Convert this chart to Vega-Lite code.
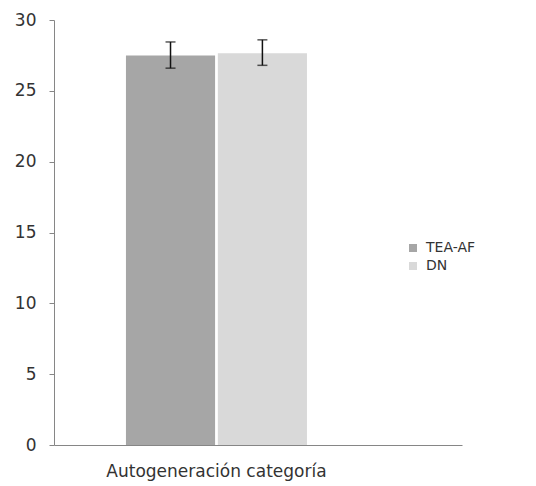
{
  "$schema": "https://vega.github.io/schema/vega-lite/v6.json",
  "width": 408,
  "height": 425,
  "autosize": "none",
  "padding": {"left": 54, "top": 20, "right": 74, "bottom": 41},
  "background": "white",
  "config": {
    "view": {"stroke": null},
    "font": "DejaVu Sans",
    "axis": {"grid": false, "domainColor": "#868686", "tickColor": "#868686", "labelColor": "#333333", "labelFont": "DejaVu Sans"}
  },
  "data": {
    "values": [
      {"cat": "Autogeneración categoría", "group": "TEA-AF", "mean": 27.5, "lo": 26.6, "hi": 28.45},
      {"cat": "Autogeneración categoría", "group": "DN", "mean": 27.65, "lo": 26.8, "hi": 28.6}
    ]
  },
  "encoding": {
    "x": {
      "field": "cat", "type": "nominal", "title": null,
      "scale": {"paddingInner": 0, "paddingOuter": 0.627, "align": 0.317},
      "axis": {"labelAngle": 0, "ticks": false, "labelPadding": 18, "labelFontSize": 17, "labelLimit": 0, "labelDx": 4}
    },
    "xOffset": {"field": "group", "type": "nominal", "sort": ["TEA-AF", "DN"], "scale": {"paddingInner": 0.03}}
  },
  "layer": [
    {
      "mark": {"type": "bar"},
      "encoding": {
        "y": {
          "field": "mean", "type": "quantitative", "title": null,
          "scale": {"domain": [0, 30], "nice": false},
          "axis": {"values": [0, 5, 10, 15, 20, 25, 30], "tickSize": 5, "labelPadding": 13, "labelFontSize": 17}
        },
        "color": {
          "field": "group", "type": "nominal", "sort": ["TEA-AF", "DN"],
          "scale": {"domain": ["TEA-AF", "DN"], "range": ["#a6a6a6", "#d9d9d9"]},
          "legend": {"title": null, "orient": "none", "legendX": 352, "legendY": 221, "symbolType": "square", "symbolSize": 64, "symbolStrokeWidth": 0, "labelFontSize": 14, "labelColor": "#333333", "rowPadding": 4, "padding": 0, "labelOffset": 6}
        }
      }
    },
    {
      "mark": {"type": "rule", "color": "#111111", "strokeWidth": 1.5},
      "encoding": {
        "y": {"field": "lo", "type": "quantitative"},
        "y2": {"field": "hi"}
      }
    },
    {
      "mark": {"type": "tick", "color": "#111111", "size": 10, "thickness": 1.5},
      "encoding": {"y": {"field": "lo", "type": "quantitative"}}
    },
    {
      "mark": {"type": "tick", "color": "#111111", "size": 10, "thickness": 1.5},
      "encoding": {"y": {"field": "hi", "type": "quantitative"}}
    }
  ]
}
